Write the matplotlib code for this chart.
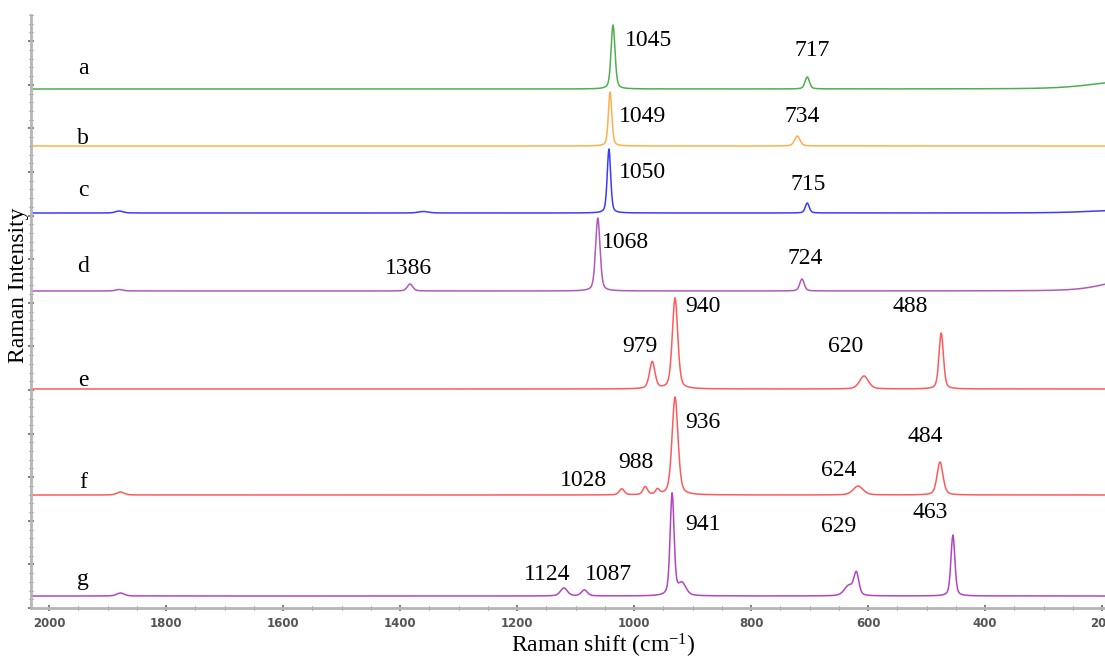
import matplotlib
matplotlib.use("Agg")
import matplotlib.pyplot as plt
from matplotlib.ticker import MultipleLocator
import numpy as np

plt.rcParams["mathtext.fontset"] = "custom"
plt.rcParams["mathtext.rm"] = "Liberation Serif"
plt.rcParams["mathtext.it"] = "Liberation Serif:italic"

# Raman shift range of the plot (cm-1)
x_min, x_max = 195, 2031

# stacked spectra: name, vertical offset, colour, peak table (centre, height, FWHM)
names = ["a", "b", "c", "d", "e", "f", "g"]
offsets = [519, 462, 395, 317, 219, 113, 12]
colors = ["#4fae4f", "#ffb04a", "#3b3bff", "#b258b8", "#ff5a5a", "#ff5a5a", "#b146c2"]

peaks_a = [(1036, 64, 8), (704, 12, 9), (150, 8, 150)]
peaks_b = [(1041, 54, 7), (721, 10, 11)]
peaks_c = [(1043, 64, 7), (704, 10, 8), (1880, 2, 15), (1360, 1.5, 20), (150, 3, 150)]
peaks_d = [(1062, 73, 9), (713, 12, 9), (1383, 7, 11), (1880, 1.5, 15), (150, 11, 110)]
peaks_e = [(930, 91, 11), (969, 27, 11), (607, 13, 18), (475, 56, 9)]
peaks_f = [(930, 98, 12), (981, 8, 9), (960, 5, 8), (1021, 6, 10),
           (617, 9, 20), (477, 33, 12), (1878, 3, 15)]
peaks_g = [(935, 102, 8), (918, 12, 16), (1120, 8, 14), (1085, 6, 12),
           (620, 22, 10), (633, 10, 18), (455, 61, 8), (1878, 3, 15)]
peak_tables = [peaks_a, peaks_b, peaks_c, peaks_d, peaks_e, peaks_f, peaks_g]

# letter labels (x, y in data units)
letter_x = 1942
letter_y = [540, 470, 418, 342, 227, 125, 28]

# peak annotations: text, x, y
ann_text = ["1045", "717", "1049", "734", "1050", "715", "1386", "1068", "724",
            "940", "979", "620", "488", "1028", "988", "936", "624", "484",
            "1124", "1087", "941", "629", "463"]
ann_x = [976, 696, 986, 713, 986, 703, 1386, 1015, 708,
         882, 990, 639, 528, 1087, 997, 882, 651, 503,
         1149, 1044, 882, 651, 494]
ann_y = [567, 557, 491, 492, 435, 423, 340, 365, 349,
         302, 261, 261, 301, 127, 146, 185, 138, 172,
         33, 33, 84, 81, 95]


def spectrum(x, table):
    # pseudo-Voigt sum of the listed bands
    y = np.zeros_like(x)
    for c, h, w in table:
        g = np.exp(-4 * np.log(2) * ((x - c) / w) ** 2)
        l = 1.0 / (1 + 4 * ((x - c) / w) ** 2)
        y += h * (0.6 * g + 0.4 * l)
    return y


x = np.arange(x_min, x_max + 1, 1.0)

fig = plt.figure(figsize=(11.05, 6.59), dpi=100)
ax = fig.add_axes([31 / 1105, 51 / 659, 1 - 31 / 1105, 593 / 659])

for name, off, col, table in zip(names, offsets, colors, peak_tables):
    ax.plot(x, off + spectrum(x, table), color=col, lw=1.1)

serif = "Liberation Serif"
for name, ly in zip(names, letter_y):
    ax.text(letter_x, ly, name, fontsize=17, family=serif, ha="center", va="center")
for t, ax_, ay in zip(ann_text, ann_x, ann_y):
    ax.text(ax_, ay, t, fontsize=17, family=serif, ha="center", va="center")

ax.set_xlim(x_max, x_min)
ax.set_ylim(0, 593)

ax.xaxis.set_major_locator(MultipleLocator(200))
ax.xaxis.set_minor_locator(MultipleLocator(50))
ax.yaxis.set_major_locator(MultipleLocator(43.6))
ax.yaxis.set_minor_locator(MultipleLocator(8.72))
ax.set_yticklabels([])
ax.tick_params(axis="both", which="major", direction="inout", length=5,
               width=1.2, color="#666666")
ax.tick_params(axis="both", which="minor", direction="inout", length=3,
               width=0.8, color="#777777")
ax.tick_params(axis="x", labelsize=8.5, labelcolor="#555555", pad=4)
for lab in ax.get_xticklabels():
    lab.set_fontweight("bold")

for s in ["top", "right"]:
    ax.spines[s].set_visible(False)
for s in ["left", "bottom"]:
    ax.spines[s].set_color("#b5b5b5")
    ax.spines[s].set_linewidth(2)

ax.set_xlabel("Raman shift (cm$^{-1}$)", fontsize=17, family=serif)
ax.xaxis.set_label_coords((603 - 31) / 1074, -0.040)
ax.set_ylabel("Raman Intensity", fontsize=17, family=serif)
ax.yaxis.set_label_coords(-0.002, (608 - 285) / 593)

fig.savefig("out.png", dpi=100)
